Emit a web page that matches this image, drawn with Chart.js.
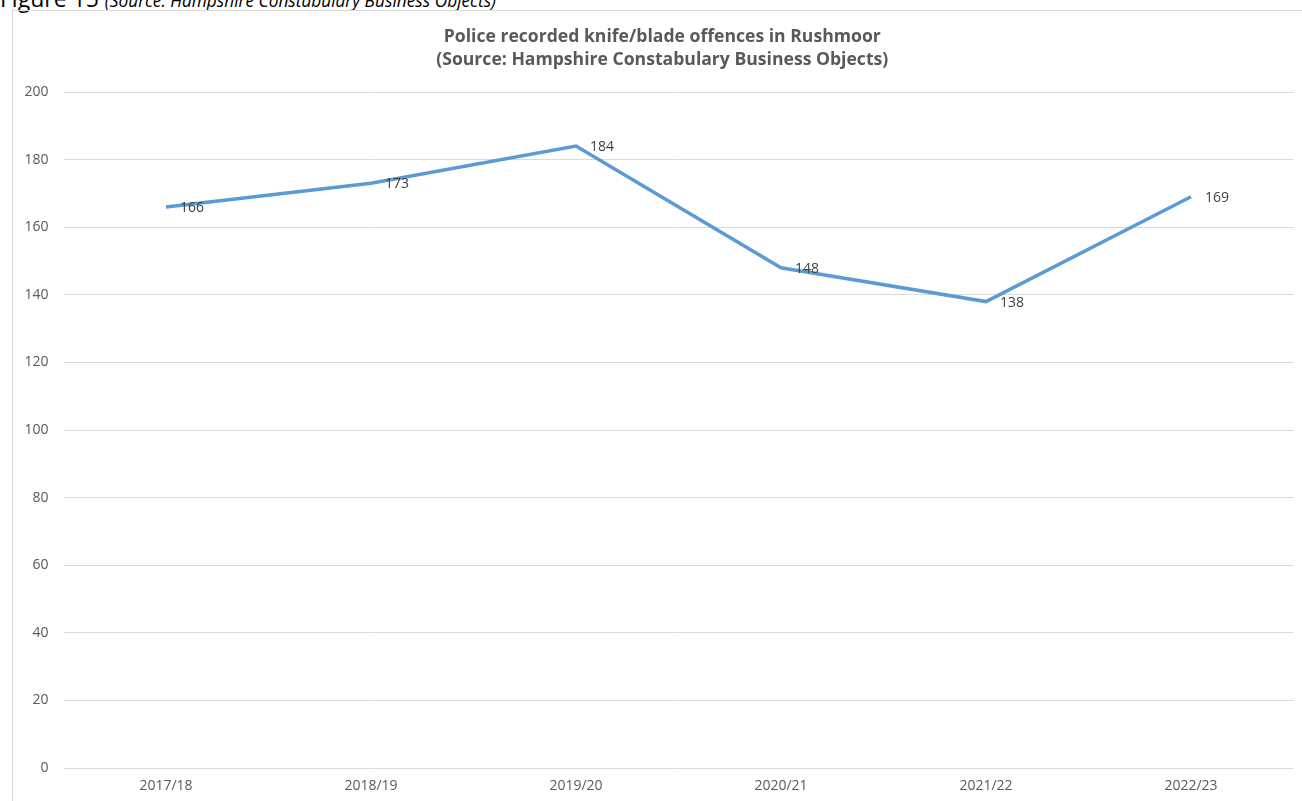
<!DOCTYPE html>
<html>
<head>
<meta charset="utf-8">
<script src="https://cdn.jsdelivr.net/npm/chart.js@4.4.1/dist/chart.umd.min.js"></script>
<style>
  html, body { margin: 0; padding: 0; background: #fff; overflow: hidden; }
  body { width: 1302px; height: 801px; position: relative; font-family: "Open Sans", sans-serif; }
  #caption { position: absolute; left: 0; top: -16px; font-size: 23px; line-height: 28px; color: #000; white-space: nowrap; }
  #caption i { font-size: 17.3px; }
  #frame { position: absolute; left: 12px; top: 10px; width: 1300px; height: 800px; border: 1px solid #d9d9d9; box-sizing: border-box; }
  #wrap { position: absolute; left: 0; top: 0; width: 1302px; height: 801px; }
</style>
</head>
<body>
<div id="caption">Figure 15 <i>(Source: Hampshire Constabulary Business Objects)</i></div>
<div id="frame"></div>
<div id="wrap"><canvas id="lineChart"></canvas></div>
<script>
// data
const years = ['2017/18', '2018/19', '2019/20', '2020/21', '2021/22', '2022/23'];
const offences = [166, 173, 184, 148, 138, 169];
const yTicks = [0, 20, 40, 60, 80, 100, 120, 140, 160, 180, 200];

// value labels to the right of each point (like Excel "Right")
const pointLabels = {
    id: 'pointLabels',
    afterDatasetsDraw(chart) {
        const ctx = chart.ctx;
        const meta = chart.getDatasetMeta(0);
        ctx.save();
        ctx.font = '14px "Open Sans", sans-serif';
        ctx.fillStyle = '#404040';
        ctx.textAlign = 'left';
        ctx.textBaseline = 'middle';
        meta.data.forEach((pt, i) => {
            ctx.fillText(String(offences[i]), pt.x + 14, pt.y + 1);
        });
        ctx.restore();
    }
};

// centre the title over the framed box rather than the whole canvas
const titleShift = {
    id: 'titleShift',
    afterLayout(chart) {
        if (chart.titleBlock) chart.titleBlock.left = 31;
    }
};

const ctx = document.getElementById('lineChart').getContext('2d');
const lineChart = new Chart(ctx, {
    type: 'line',
    data: {
        labels: years,
        datasets: [{
            label: 'Offences',
            data: offences,
            borderColor: '#5b9bd5',
            borderWidth: 3.5,
            pointRadius: 0,
            tension: 0,
            fill: false
        }]
    },
    options: {
        responsive: true,
        maintainAspectRatio: false,
        animation: false,
        layout: {
            padding: { left: 0, right: 8.5, top: 0, bottom: 0 }
        },
        plugins: {
            legend: { display: false },
            tooltip: { enabled: false },
            title: {
                display: true,
                text: ['Police recorded knife/blade offences in Rushmoor', '(Source: Hampshire Constabulary Business Objects)'],
                color: '#595959',
                font: { family: '"Open Sans", sans-serif', size: 17.6, weight: 'bold', lineHeight: 1.307 },
                padding: { top: 25, bottom: 21 }
            }
        },
        scales: {
            x: {
                offset: true,
                grid: { display: false, drawTicks: false },
                border: { display: false },
                ticks: {
                    color: '#595959',
                    font: { family: '"Open Sans", sans-serif', size: 14 },
                    padding: 10,
                    maxRotation: 0
                },
                afterFit(scale) { scale.height = 33; }
            },
            y: {
                min: 0,
                max: 200,
                afterBuildTicks(scale) { scale.ticks = yTicks.map(v => ({ value: v })); },
                grid: { color: '#d9d9d9', lineWidth: 1, drawTicks: false },
                border: { display: false },
                ticks: {
                    color: '#595959',
                    font: { family: '"Open Sans", sans-serif', size: 14 },
                    padding: 15
                },
                afterFit(scale) { scale.width = 63.5; }
            }
        }
    },
    plugins: [pointLabels, titleShift]
});
</script>
</body>
</html>
